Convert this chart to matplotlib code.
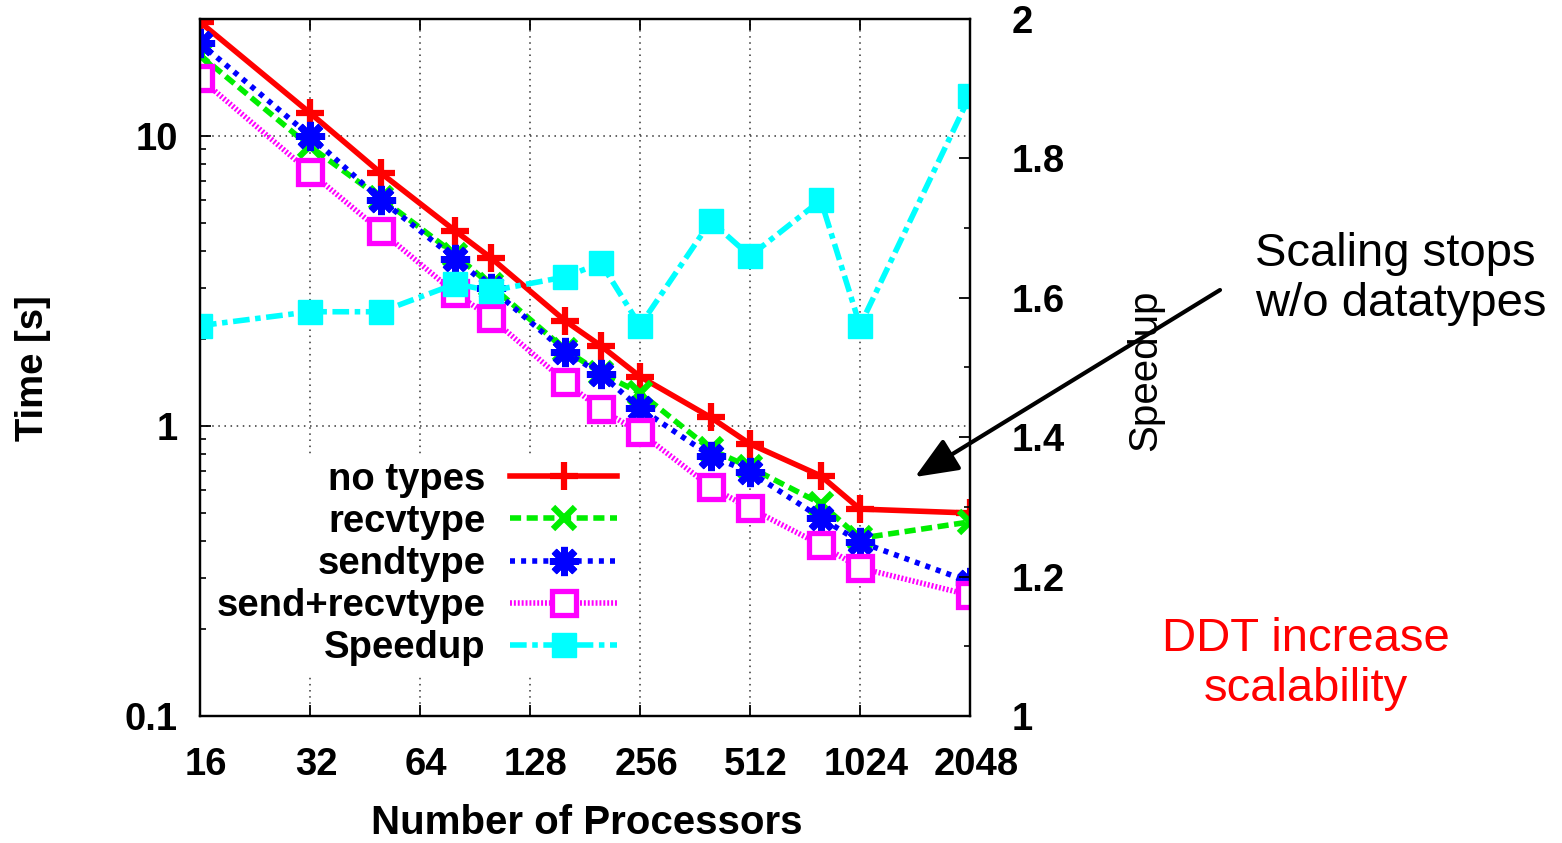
import numpy as np
import matplotlib
matplotlib.use("Agg")
import matplotlib.pyplot as plt
from matplotlib.ticker import FixedLocator, NullFormatter, LogLocator, MultipleLocator
from matplotlib.transforms import ScaledTranslation

plt.rcParams['font.family'] = ['Liberation Sans', 'DejaVu Sans']

# values
procs = [16, 32, 50, 80, 100, 160, 200, 256, 400, 512, 800, 1024, 2048]
no_types = [24.7, 12.0, 7.45, 4.70, 3.80, 2.30, 1.89, 1.48, 1.07, 0.867, 0.673, 0.517, 0.501]
recvtype = [19.0, 9.2, 6.1, 3.9, 3.05, 1.83, 1.52, 1.30, 0.83, 0.72, 0.54, 0.41, 0.467]
sendtype = [20.9, 10.0, 6.02, 3.77, 2.99, 1.80, 1.51, 1.15, 0.788, 0.694, 0.482, 0.398, 0.290]
send_recv = [15.8, 7.5, 4.70, 2.87, 2.36, 1.42, 1.14, 0.95, 0.616, 0.52, 0.389, 0.324, 0.261]
speedup = [1.56, 1.58, 1.58, 1.62, 1.61, 1.63, 1.65, 1.56, 1.71, 1.66, 1.74, 1.56, 1.89]

xticks = [16, 32, 64, 128, 256, 512, 1024, 2048]
yticks = [0.1, 1, 10]
y2ticks = [1, 1.2, 1.4, 1.6, 1.8, 2]

W, H = 1562, 843
fig = plt.figure(figsize=(W / 100, H / 100), dpi=100)

def px(x, y):
    # figure pixel (from top-left) -> figure fraction
    return x / W, 1 - y / H

left, top = px(200, 19)
right, bottom = px(970, 716)
ax = fig.add_axes([left, bottom, right - left, top - bottom])
ax2 = ax.twinx()

ax.set_xscale('log', base=2)
ax.set_yscale('log')
ax.set_xlim(16, 2048)
ax.set_ylim(0.1, 25.3)
ax2.set_ylim(1, 2)

lw = 4
ax.plot(procs, no_types, color='#ff0000', lw=lw, ls='-', marker='+', ms=20, mew=4.5,
        label='no types')
ax.plot(procs, recvtype, color='#00ee00', lw=lw, ls=(0, (2, 1)), marker='x', ms=16, mew=4.5,
        label='recvtype')
ax.plot(procs, sendtype, color='#0000ff', lw=lw, ls=(0, (0.9, 1.1)), marker=(8, 2, 0), ms=21,
        mew=5, label='sendtype')
ax.plot(procs, send_recv, color='#ff00ff', lw=lw, ls=(0, (0.35, 0.35)), marker='s', ms=17,
        mew=3.8, mfc='white', label='send+recvtype')
ax2.plot(procs, speedup, color='#00ffff', lw=lw, ls=(0, (3, 1, 1, 1)), marker='s', ms=17,
         mew=1, label='Speedup')

# axes styling
ax.grid(True, which='major', color='#333333', ls=(0, (1, 3)), lw=1.1)
for a in (ax, ax2):
    for s in a.spines.values():
        s.set_linewidth(1.6)

ax.xaxis.set_major_locator(FixedLocator(xticks))
ax.set_xticklabels([str(t) for t in xticks])
ax.xaxis.set_minor_locator(FixedLocator([]))
ax.yaxis.set_major_locator(FixedLocator(yticks))
ax.set_yticklabels(['0.1', '1', '10'])
ax.yaxis.set_minor_locator(LogLocator(base=10, subs=np.arange(2, 10)))
ax.yaxis.set_minor_formatter(NullFormatter())

ax.tick_params(axis='x', which='both', direction='in', top=True, length=8, width=1.3, pad=22)
ax.tick_params(axis='y', which='major', direction='in', length=8, width=1.3, pad=16)
ax.tick_params(axis='y', which='minor', direction='in', length=4, width=1.2)
shift = ScaledTranslation(6 / 100, 0, fig.dpi_scale_trans)
for lab in ax.get_xticklabels():
    lab.set_transform(lab.get_transform() + shift)
for lab in ax.get_xticklabels() + ax.get_yticklabels():
    lab.set_fontsize(27.5)
    lab.set_fontweight('bold')

ax2.yaxis.set_major_locator(FixedLocator(y2ticks))
ax2.set_yticklabels(['1', '1.2', '1.4', '1.6', '1.8', '2'])
ax2.yaxis.set_minor_locator(MultipleLocator(0.1))
ax2.tick_params(axis='y', which='major', direction='in', length=8, width=1.3, pad=30)
ax2.tick_params(axis='y', which='minor', direction='in', length=4, width=1.2)
for lab in ax2.get_yticklabels():
    lab.set_fontsize(27.5)
    lab.set_fontweight('bold')

# axis labels
fig.text(*px(587, 823), 'Number of Processors', ha='center', va='center',
         fontsize=29, fontweight='bold')
fig.text(*px(33, 368), 'Time [s]', ha='center', va='center', rotation=90,
         fontsize=27.5, fontweight='bold')
fig.text(*px(1145, 370), 'Speedup', ha='center', va='center', rotation=90, fontsize=29)

# legend with labels on the left, line samples on the right
h1, l1 = ax.get_legend_handles_labels()
h2, l2 = ax2.get_legend_handles_labels()
leg = ax2.legend(h1 + h2, l1 + l2, loc='upper right', bbox_to_anchor=px(644, 435),
                 bbox_transform=fig.transFigure, markerfirst=False, handlelength=2.8,
                 handletextpad=0.65, labelspacing=0.16, borderpad=0.2, fancybox=False,
                 framealpha=1, facecolor='white', edgecolor='none',
                 prop=dict(size=27.5, weight='bold'))

# annotations
ax2.annotate('', xy=px(915, 477), xytext=px(1220, 290), xycoords='figure fraction',
             textcoords='figure fraction', annotation_clip=False,
             arrowprops=dict(arrowstyle='-|>,head_length=1.2,head_width=0.5', lw=3,
                             color='black', mutation_scale=22, shrinkA=0, shrinkB=0))
fig.text(*px(1255, 279), 'Scaling stops\nw/o datatypes', ha='left', va='center',
         fontsize=34, linespacing=1.2)
fig.text(*px(1306, 664), 'DDT increase\nscalability', ha='center', va='center',
         fontsize=34, color='#ff0000', linespacing=1.2)

fig.savefig('out.png', dpi=100)
